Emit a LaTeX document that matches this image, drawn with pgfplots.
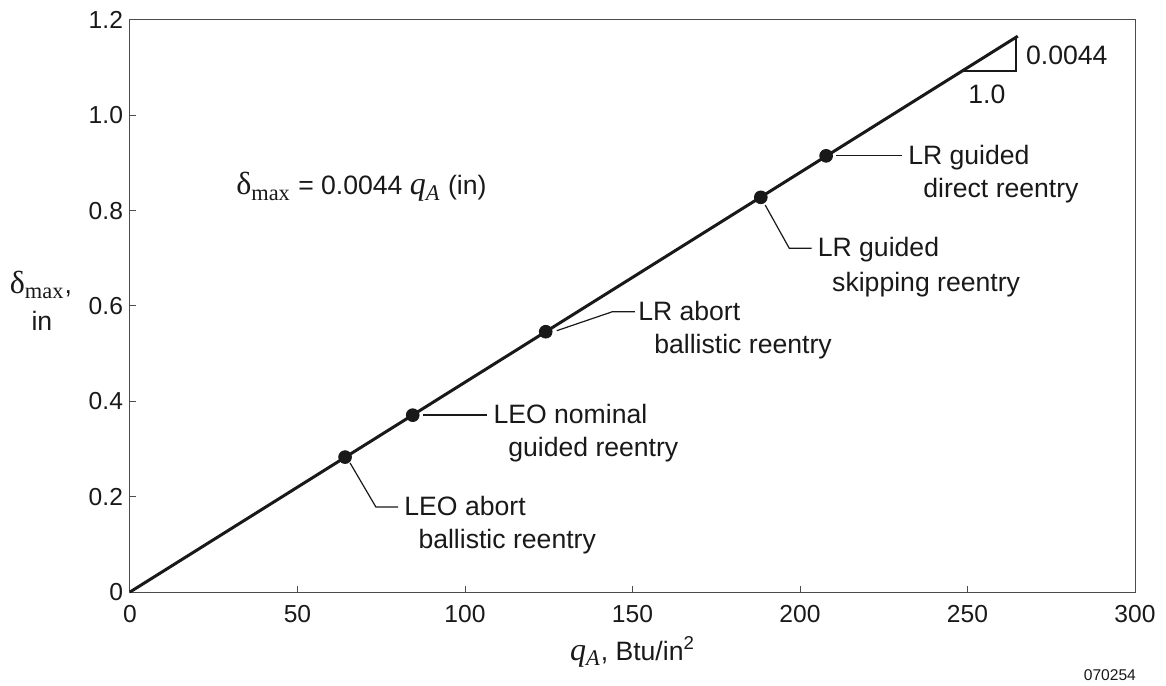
\documentclass[border=0pt]{standalone}
\usepackage{fontspec}
\setmainfont{Liberation Sans}
\newfontfamily\serif{Liberation Serif}
\usepackage{pgfplots}
\pgfplotsset{compat=1.18}

\newcommand{\dmax}{{\serif\fontsize{16}{17}\selectfont δ\textsubscript{max}}}
\newcommand{\qA}{{\serif\itshape\fontsize{16}{17}\selectfont q\textsubscript{A}}}

\begin{document}
\begin{tikzpicture}[
  lbl/.style={font=\fontsize{13.3}{15}\selectfont, text=black!90, inner sep=0pt},
  lead/.style={black!90, line width=0.6pt},
]
\begin{axis}[
  scale only axis, width=502.5pt, height=286pt,
  xmin=0, xmax=300, ymin=0, ymax=1.2,
  xtick={0,50,100,150,200,250,300},
  xticklabels={0,50,100,150,200,250,300},
  ytick={0,0.2,0.4,0.6,0.8,1.0,1.2},
  yticklabels={0,0.2,0.4,0.6,0.8,1.0,1.2},
  tick pos=left, tick align=inside, major tick length=3pt,
  axis line style={black!70, line width=0.5pt},
  tick style={black!70, line width=0.5pt},
  ticklabel style={font=\fontsize{12.3}{14}\selectfont, text=black!90},
  xticklabel style={yshift=-3pt},
  clip=false,
]
% deflection line, slope 0.0044 in per Btu/in^2
\addplot[black!90, line width=1.5pt] coordinates {(0,0) (265,1.166)};
% reentry cases
\addplot[only marks, mark=*, mark size=3.2pt, black!90] coordinates {
  (64.2,0.283) (84.4,0.371) (124.1,0.546) (188.3,0.828) (207.8,0.915)};

% slope triangle
\draw[black!90, line width=1pt] (axis cs:248.5,1.0934) -- (axis cs:264.5,1.0934) -- (axis cs:264.5,1.1638);
\node[lbl, anchor=west] at (axis cs:267.4,1.1266) {0.0044};
\node[lbl] at (axis cs:255.8,1.0447) {1.0};

% equation
\node[lbl, anchor=base west] at (axis cs:31.6,0.833) {\dmax\ = 0.0044 \qA\ (in)};

% leaders and labels
\draw[lead] (axis cs:65.7,0.2706) -- (axis cs:73.4,0.1783) -- (axis cs:80.0,0.1783);
\node[lbl, anchor=base west] at (axis cs:81.8,0.1605) {LEO abort};
\node[lbl, anchor=base west] at (axis cs:86.0,0.0913) {ballistic reentry};

\draw[lead] (axis cs:87.5,0.3713) -- (axis cs:106.6,0.3713);
\node[lbl, anchor=base west] at (axis cs:108.4,0.3535) {LEO nominal};
\node[lbl, anchor=base west] at (axis cs:112.8,0.2843) {guided reentry};

\draw[lead] (axis cs:127.4,0.5482) -- (axis cs:144.0,0.5880) -- (axis cs:150.7,0.5880);
\node[lbl, anchor=base west] at (axis cs:151.6,0.5702) {LR abort};
\node[lbl, anchor=base west] at (axis cs:156.4,0.5003) {ballistic reentry};

\draw[lead] (axis cs:189.6,0.8119) -- (axis cs:196.8,0.7210) -- (axis cs:203.5,0.7210);
\node[lbl, anchor=base west] at (axis cs:205.2,0.7032) {LR guided};
\node[lbl, anchor=base west] at (axis cs:209.5,0.6304) {skipping reentry};

\draw[lead] (axis cs:210.7,0.9153) -- (axis cs:230.3,0.9153);
\node[lbl, anchor=base west] at (axis cs:232.2,0.8975) {LR guided};
\node[lbl, anchor=base west] at (axis cs:236.7,0.8276) {direct reentry};

% axis titles
\node[lbl] at (axis cs:150,-0.126) {\qA, Btu/in\textsuperscript{2}};
\node[lbl] at (axis cs:-26.6,0.644) {\dmax,};
\node[lbl] at (axis cs:-26.3,0.5685) {in};
\node[lbl, font=\fontsize{7.8}{9}\selectfont] at (axis cs:292.5,-0.174) {070254};
\end{axis}
\path[use as bounding box] (-65pt,-46.5pt) rectangle (518pt,296pt);
\end{tikzpicture}
\end{document}
